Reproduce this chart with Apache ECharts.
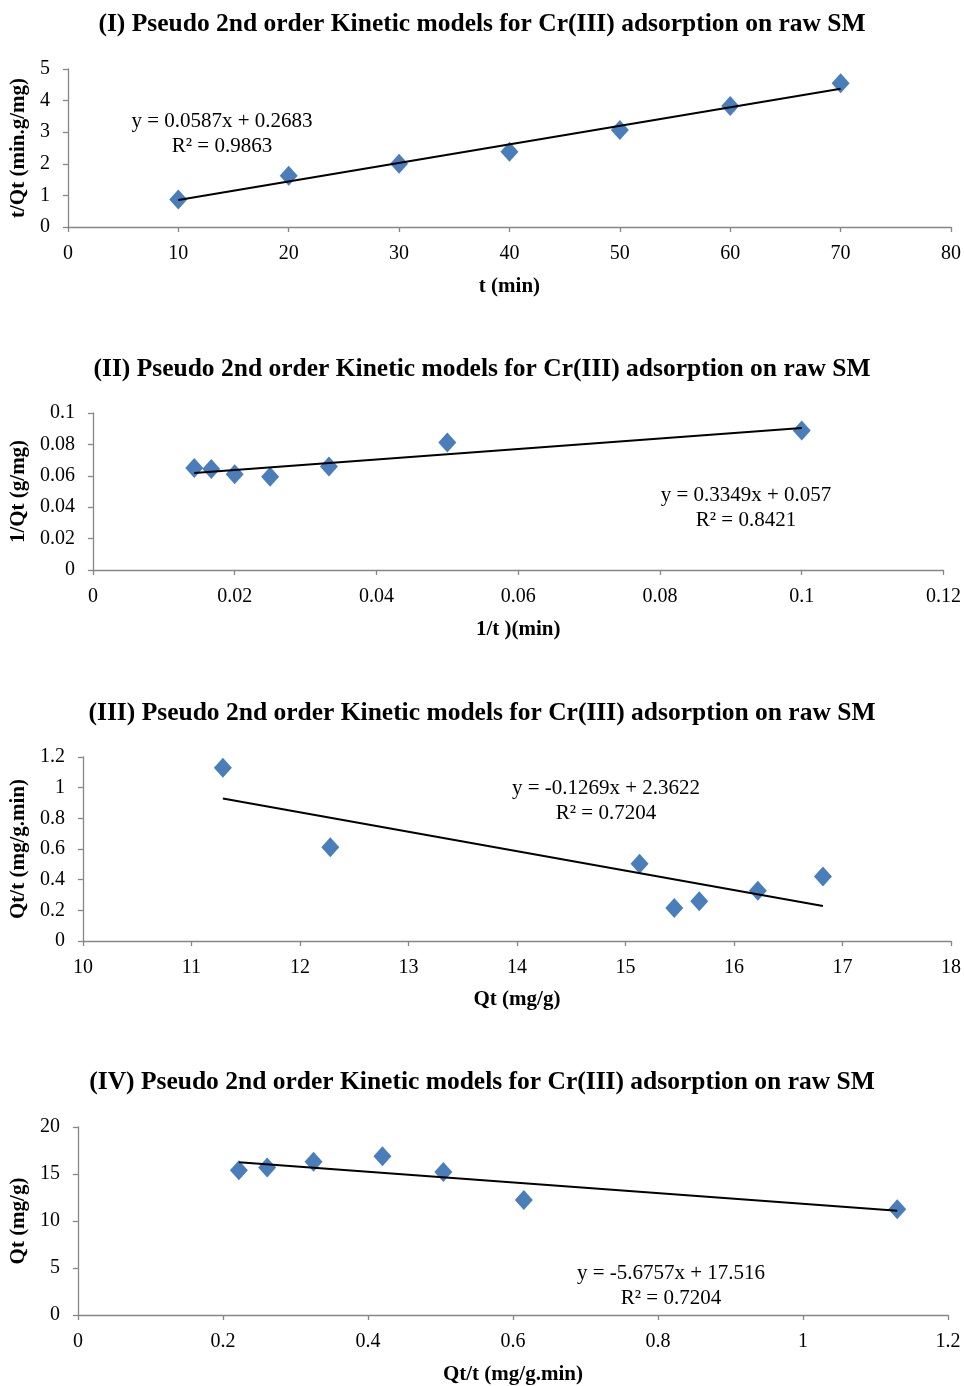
<!DOCTYPE html>
<html>
<head>
<meta charset="utf-8">
<script src="https://cdn.jsdelivr.net/npm/echarts@6/dist/echarts.min.js"></script>
<style>html,body{margin:0;padding:0;background:#fff;}#c{width:964px;height:1386px;}</style>
</head>
<body>
<div id="c"></div>
<script>
// Chart I: t vs t/Qt
var c1x = [10, 20, 30, 40, 50, 60, 70];
var c1y = [0.87, 1.62, 2.00, 2.38, 3.07, 3.83, 4.55];
// Chart II: 1/t vs 1/Qt
var c2x = [0.0143, 0.0167, 0.0200, 0.0250, 0.0333, 0.0500, 0.1000];
var c2y = [0.0650, 0.0643, 0.0610, 0.0594, 0.0660, 0.0812, 0.0889];
// Chart III: Qt vs Qt/t
var c3x = [11.29, 12.28, 15.13, 15.45, 15.68, 16.22, 16.82];
var c3y = [1.13, 0.612, 0.503, 0.215, 0.259, 0.327, 0.42];
// Chart IV: Qt/t vs Qt
var c4x = [0.222, 0.261, 0.325, 0.42, 0.504, 0.615, 1.13];
var c4y = [15.41, 15.7, 16.3, 16.9, 15.2, 12.24, 11.25];

var fits = [
  {m: 0.0587, b: 0.2683, eq: 'y = 0.0587x + 0.2683', r2: 'R² = 0.9863'},
  {m: 0.3349, b: 0.057, eq: 'y = 0.3349x + 0.057', r2: 'R² = 0.8421'},
  {m: -0.1269, b: 2.3622, eq: 'y = -0.1269x + 2.3622', r2: 'R² = 0.7204'},
  {m: -5.6757, b: 17.516, eq: 'y = -5.6757x + 17.516', r2: 'R² = 0.7204'}
];
var titles = [
  '(I) Pseudo 2nd order Kinetic models for Cr(III) adsorption on raw SM',
  '(II) Pseudo 2nd order Kinetic models for Cr(III) adsorption on raw SM',
  '(III) Pseudo 2nd order Kinetic models for Cr(III) adsorption on raw SM',
  '(IV) Pseudo 2nd order Kinetic models for Cr(III) adsorption on raw SM'
];
var xNames = ['t (min)', '1/t )(min)', 'Qt (mg/g)', 'Qt/t (mg/g.min)'];
var yNames = ['t/Qt (min.g/mg)', '1/Qt (g/mg)', 'Qt/t (mg/g.min)', 'Qt (mg/g)'];
var xRanges = [[0, 80, 10], [0, 0.12, 0.02], [10, 18, 1], [0, 1.2, 0.2]];
var yRanges = [[0, 5, 1], [0, 0.1, 0.02], [0, 1.2, 0.2], [0, 20, 5]];

var xs = [c1x, c2x, c3x, c4x];
var ys = [c1y, c2y, c3y, c4y];

var grids = [
  {left: 66, top: 69, width: 886, height: 158},
  {left: 92, top: 413, width: 852, height: 157},
  {left: 82, top: 757, width: 870, height: 184},
  {left: 76, top: 1127, width: 872, height: 188}
];
var titleTops = [6, 351, 695, 1064];
var xNameGaps = [49, 49, 48, 49];
var yNameGaps = [38, 62, 52, 46];
var eqPos = [[222, 121], [746, 495], [606, 788], [671, 1273]];

var font = '"Liberation Serif", "Times New Roman", serif';
var axisColor = '#868686';

var option = {
  backgroundColor: '#fff',
  animation: false,
  title: [],
  grid: grids,
  xAxis: [],
  yAxis: [],
  series: [],
  graphic: []
};

for (var i = 0; i < 4; i++) {
  option.title.push({
    text: titles[i], left: 'center', top: titleTops[i],
    textStyle: {fontFamily: font, fontSize: 25.5, fontWeight: 'bold', color: '#000'}
  });
  option.xAxis.push({
    type: 'value', gridIndex: i,
    min: xRanges[i][0], max: xRanges[i][1], interval: xRanges[i][2],
    name: xNames[i], nameLocation: 'middle', nameGap: xNameGaps[i],
    nameTextStyle: {fontFamily: font, fontSize: 21, fontWeight: 'bold', color: '#000'},
    axisLine: {show: true, onZero: false, lineStyle: {color: axisColor, width: 1.3}},
    axisTick: {show: true, inside: false, length: 5, lineStyle: {color: axisColor, width: 1.3}},
    axisLabel: {fontFamily: font, fontSize: 20, color: '#000', margin: 17},
    splitLine: {show: false}
  });
  option.yAxis.push({
    type: 'value', gridIndex: i,
    min: yRanges[i][0], max: yRanges[i][1], interval: yRanges[i][2],
    name: yNames[i], nameLocation: 'middle', nameGap: yNameGaps[i],
    nameTextStyle: {fontFamily: font, fontSize: 21, fontWeight: 'bold', color: '#000'},
    axisLine: {show: true, onZero: false, lineStyle: {color: axisColor, width: 1.3}},
    axisTick: {show: true, inside: false, length: 5, lineStyle: {color: axisColor, width: 1.3}},
    axisLabel: {fontFamily: font, fontSize: 20, color: '#000', margin: 18},
    splitLine: {show: false}
  });
  var pts = xs[i].map(function (x, k) { return [x, ys[i][k]]; });
  var xmin = Math.min.apply(null, xs[i]);
  var xmax = Math.max.apply(null, xs[i]);
  var f = fits[i];
  option.series.push({
    type: 'line', xAxisIndex: i, yAxisIndex: i,
    data: [[xmin, f.m * xmin + f.b], [xmax, f.m * xmax + f.b]],
    symbol: 'none', lineStyle: {color: '#000', width: 2}, z: 3, silent: true
  });
  option.series.push({
    type: 'scatter', xAxisIndex: i, yAxisIndex: i,
    data: pts, symbol: 'diamond', symbolSize: [18, 20],
    itemStyle: {color: '#4A7EBB', opacity: 1}, z: 2
  });
  option.graphic.push({
    type: 'text', x: eqPos[i][0], y: eqPos[i][1],
    style: {text: f.eq, fontFamily: font, fontSize: 21, fill: '#000', align: 'center', verticalAlign: 'middle'}
  });
  option.graphic.push({
    type: 'text', x: eqPos[i][0], y: eqPos[i][1] + 25,
    style: {text: f.r2, fontFamily: font, fontSize: 21, fill: '#000', align: 'center', verticalAlign: 'middle'}
  });
}

var chart = echarts.init(document.getElementById('c'), null, {renderer: 'canvas'});
chart.setOption(option);
</script>
</body>
</html>
